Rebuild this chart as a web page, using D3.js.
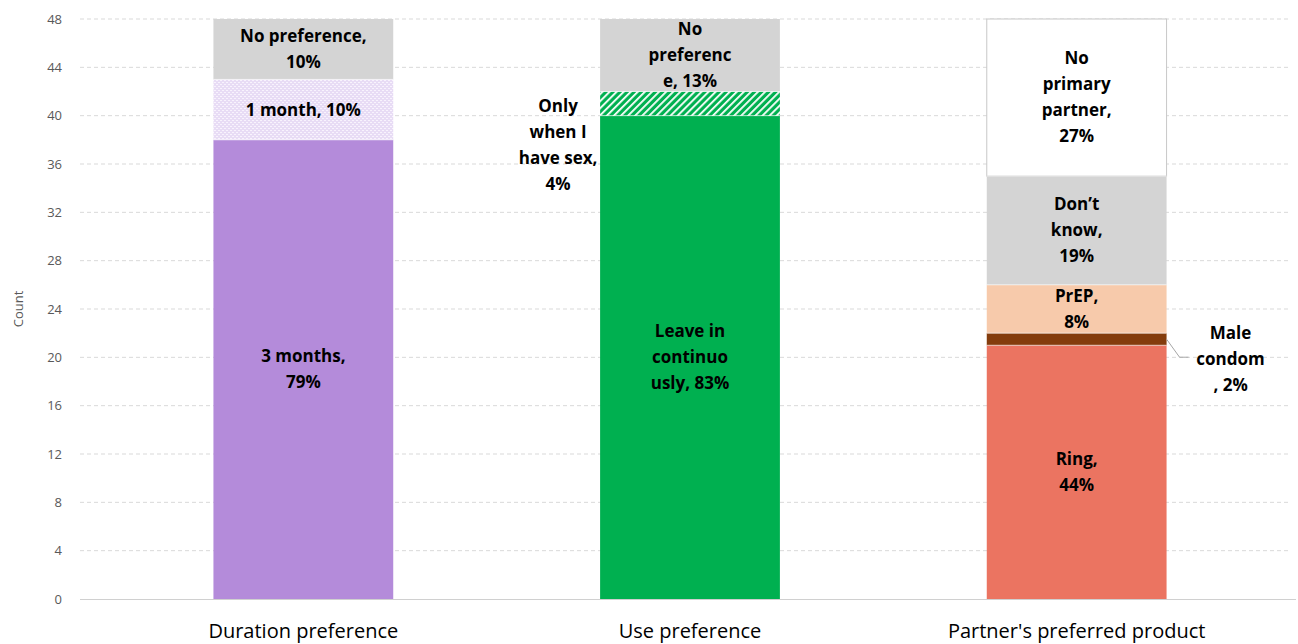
<!DOCTYPE html>
<html>
<head>
<meta charset="utf-8">
<script src="https://cdn.jsdelivr.net/npm/d3@7"></script>
<style>
  body { margin: 0; background: #fff; }
  svg { display: block; font-family: "Open Sans", Lato, sans-serif; }
  .tick-label { fill: #595959; font-size: 13px; }
  .seg-label { font-weight: bold; font-size: 17px; fill: #000; }
  .cat-label { font-size: 20px; fill: #000; }
</style>
</head>
<body>
<svg width="1298" height="644"></svg>
<script>
// data
const categories = ["Duration preference", "Use preference", "Partner's preferred product"];

const durationNames = ["3 months", "1 month", "No preference"];
const durationCounts = [38, 5, 5];
const durationLines = [["3 months,", "79%"], ["1 month, 10%"], ["No preference,", "10%"]];

const useNames = ["Leave in continuously", "Only when I have sex", "No preference"];
const useCounts = [40, 2, 6];
const useLines = [["Leave in", "continuo", "usly, 83%"], ["Only", "when I", "have sex,", "4%"], ["No", "preferenc", "e, 13%"]];

const partnerNames = ["Ring", "Male condom", "PrEP", "Don't know", "No primary partner"];
const partnerCounts = [21, 1, 4, 9, 13];
const partnerLines = [["Ring,", "44%"], ["Male", "condom", ", 2%"], ["PrEP,", "8%"], ["Don\u2019t", "know,", "19%"], ["No", "primary", "partner,", "27%"]];

const yTicks = [0, 4, 8, 12, 16, 20, 24, 28, 32, 36, 40, 44, 48];

// styles (kept apart from data)
const fills = {
  "Duration preference": ["#b48bda", "url(#weave)", "#d4d4d4"],
  "Use preference": ["#00b050", "url(#hatch)", "#d4d4d4"],
  "Partner's preferred product": ["#eb7461", "#843c0c", "#f7caab", "#d4d4d4", "#ffffff"]
};
// labels placed outside the bar
const outside = { "Use preference": { idx: 1, side: "left" }, "Partner's preferred product": { idx: 1, side: "right" } };

const svg = d3.select('svg');
const defs = svg.append('defs');

const weave = defs.append('pattern').attr('id', 'weave')
  .attr('patternUnits', 'userSpaceOnUse').attr('width', 4).attr('height', 4);
weave.append('rect').attr('width', 4).attr('height', 4).attr('fill', '#e8dcf5');
weave.append('rect').attr('x', 0).attr('y', 0).attr('width', 2).attr('height', 1).attr('fill', '#f8f3fd');
weave.append('rect').attr('x', 2).attr('y', 2).attr('width', 2).attr('height', 1).attr('fill', '#f8f3fd');

const hatch = defs.append('pattern').attr('id', 'hatch')
  .attr('patternUnits', 'userSpaceOnUse').attr('width', 5).attr('height', 5)
  .attr('patternTransform', 'rotate(45)');
hatch.append('rect').attr('width', 5).attr('height', 5).attr('fill', '#00b050');
hatch.append('rect').attr('width', 1.8).attr('height', 5).attr('fill', '#ffffff');

const margin = { left: 80, right: 8, top: 19, bottom: 45 };
const W = 1298, H = 644;

const x = d3.scaleBand().domain(categories)
  .range([110, 1270]).paddingInner(0.535).paddingOuter(0.2675);
const y = d3.scaleLinear().domain([0, 48]).range([H - margin.bottom, margin.top]);

// gridlines
svg.append('g').selectAll('line').data(yTicks.filter(d => d > 0)).join('line')
  .attr('x1', margin.left).attr('x2', W - margin.right)
  .attr('y1', d => y(d)).attr('y2', d => y(d))
  .attr('stroke', '#d9d9d9').attr('stroke-width', 1).attr('stroke-dasharray', '4,3');

// y axis labels
const yAxis = d3.axisLeft(y).tickValues(yTicks).tickSize(0).tickPadding(0);
const yg = svg.append('g').attr('transform', 'translate(62,0)').call(yAxis);
yg.select('.domain').remove();
yg.selectAll('text').attr('class', 'tick-label').attr('fill', '#595959')
  .style('font-family', '"Open Sans", Lato, sans-serif').style('font-size', '13px');

svg.append('text').attr('class', 'tick-label')
  .attr('transform', `translate(23,${(y(0) + y(48)) / 2}) rotate(-90)`)
  .attr('text-anchor', 'middle').text('Count');

const series = [
  { cat: categories[0], names: durationNames, counts: durationCounts, lines: durationLines },
  { cat: categories[1], names: useNames, counts: useCounts, lines: useLines },
  { cat: categories[2], names: partnerNames, counts: partnerCounts, lines: partnerLines }
];

const lineH = 26;
series.forEach(s => {
  const stacked = d3.stack().keys(s.names.map((n, i) => i))([s.counts]);
  const g = svg.append('g');
  const bw = x.bandwidth();
  const x0 = x(s.cat);
  g.selectAll('rect').data(stacked).join('rect')
    .attr('x', x0).attr('width', bw)
    .attr('y', d => y(d[0][1]))
    .attr('height', d => y(d[0][0]) - y(d[0][1]))
    .attr('fill', (d, i) => fills[s.cat][i])
    .attr('stroke', (d, i) => fills[s.cat][i] === '#ffffff' ? '#c8c8c8' : 'none')
    .attr('stroke-width', 1);
  // thin light separators between segments
  g.selectAll('line.sep').data(stacked.slice(1)).join('line')
    .attr('class', 'sep')
    .attr('x1', x0).attr('x2', x0 + bw)
    .attr('y1', d => y(d[0][0])).attr('y2', d => y(d[0][0]))
    .attr('stroke', '#ffffff').attr('stroke-opacity', 0.6).attr('stroke-width', 1);

  stacked.forEach((d, i) => {
    const out = outside[s.cat];
    let cx = x0 + bw / 2;
    let cy = y((d[0][0] + d[0][1]) / 2);
    const lines = s.lines[i];
    if (out && out.idx === i) {
      if (out.side === 'left') {
        cx = x0 - 42;
        cy = y(d[0][1]) + 54;
      } else {
        cx = x0 + bw + 64;
        cy = y(d[0][1]) + 26;
        const ly = y((d[0][0] + d[0][1]) / 2);
        g.append('path')
          .attr('d', d3.line()([[x0 + bw, ly], [x0 + bw + 13, ly + 18], [x0 + bw + 22, ly + 18]]))
          .attr('fill', 'none').attr('stroke', '#a6a6a6').attr('stroke-width', 1);
      }
    }
    const t = g.append('text').attr('class', 'seg-label').attr('text-anchor', 'middle');
    const top = cy - (lines.length - 1) * lineH / 2;
    lines.forEach((ln, k) => {
      t.append('tspan').attr('x', cx).attr('y', top + k * lineH).attr('dy', '0.35em').text(ln);
    });
  });
});

// baseline
svg.append('line')
  .attr('x1', margin.left).attr('x2', W - 2)
  .attr('y1', y(0) + 0.5).attr('y2', y(0) + 0.5)
  .attr('stroke', '#d0d0d0').attr('stroke-width', 1.2);

// category labels
svg.append('g').selectAll('text').data(categories).join('text')
  .attr('class', 'cat-label').attr('text-anchor', 'middle')
  .attr('x', d => x(d) + x.bandwidth() / 2)
  .attr('y', 638)
  .text(d => d);
</script>
</body>
</html>
